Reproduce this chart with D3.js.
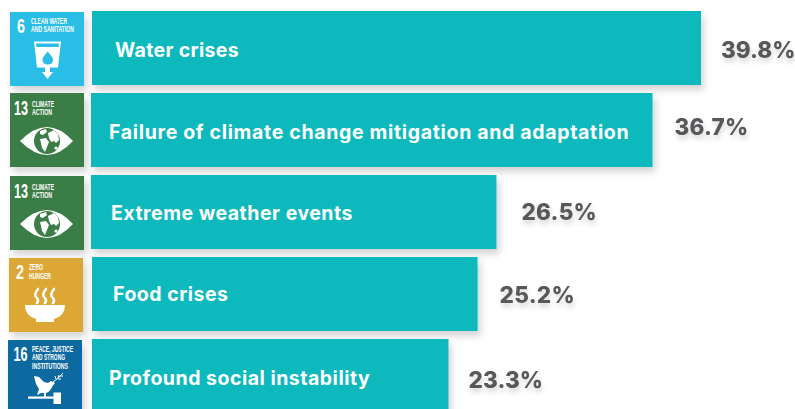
<!DOCTYPE html>
<html>
<head>
<meta charset="utf-8">
<script src="https://cdn.jsdelivr.net/npm/d3@7"></script>
<style>
  html, body { margin: 0; padding: 0; background: #fff; overflow: hidden; }
  svg { display: block; }
</style>
</head>
<body>
<svg id="chart" width="795" height="409"></svg>
<script>
// values
const risks = [
  'Water crises',
  'Failure of climate change mitigation and adaptation',
  'Extreme weather events',
  'Food crises',
  'Profound social instability'
]
const shares = [39.8, 36.7, 26.5, 25.2, 23.3]
const goals = ['water', 'climate', 'climate', 'hunger', 'peace']

/* ----------  LAYOUT  ---------- */
// the source is a hand placed slide, so each row is a little off the grid
const barNudge = [1, 0, 0, 1, 1]
const iconNudge = [[1, 1], [1, 0], [1, 1], [0, 1], [-1, 1]]
const labelX = [24, 18, 20, 22, 18]
const labelDy = [9, 9, 8, 7, 9]
const labelSpacing = [0.35, 0.67, 0.5, 0.5, 0.5]
const valueGap = [20, 22, 25, 22, 20]
const valueDy = [10, 5, 8, 9, 12]
const valueSpacing = [0, 0.25, 0.25, 0.25, 0.1]

const BAR_H = 74
const svg = d3.select('#chart')

const x = d3.scaleLinear().domain([0, 39.8]).range([0, 609])
const y = d3.scaleBand().domain(d3.range(risks.length)).range([11, 413]).paddingInner(8 / 82)

const defs = svg.append('defs')
const barShadow = defs.append('filter').attr('id', 'barShadow')
  .attr('x', '-5%').attr('y', '-20%').attr('width', '115%').attr('height', '150%')
barShadow.append('feDropShadow')
  .attr('dx', 3).attr('dy', 5).attr('stdDeviation', 3.5)
  .attr('flood-color', '#000').attr('flood-opacity', 0.17)
const textShadow = defs.append('filter').attr('id', 'textShadow')
  .attr('x', '-10%').attr('y', '-30%').attr('width', '120%').attr('height', '180%')
textShadow.append('feDropShadow')
  .attr('dx', 1).attr('dy', 4).attr('stdDeviation', 2.5)
  .attr('flood-color', '#000').attr('flood-opacity', 0.16)

/* ----------  BARS  ---------- */
svg.selectAll('.bar')
  .data(shares)
  .enter().append('rect')
  .attr('class', 'bar')
  .attr('x', (d, i) => 91 + barNudge[i])
  .attr('y', (d, i) => y(i))
  .attr('width', d => x(d))
  .attr('height', BAR_H)
  .attr('fill', '#10b9bd')
  .attr('filter', 'url(#barShadow)')

svg.selectAll('.bar-label')
  .data(risks)
  .enter().append('text')
  .attr('class', 'bar-label')
  .attr('x', (d, i) => 91 + labelX[i])
  .attr('y', (d, i) => y(i) + BAR_H / 2 + labelDy[i])
  .style('font-family', 'Inter, sans-serif')
  .style('font-size', '19.5px')
  .style('font-weight', 700)
  .style('letter-spacing', (d, i) => labelSpacing[i] + 'px')
  .style('fill', '#fff')
  .text(d => d)

svg.selectAll('.value')
  .data(shares)
  .enter().append('text')
  .attr('class', 'value')
  .attr('x', (d, i) => 91 + barNudge[i] + x(d) + valueGap[i])
  .attr('y', (d, i) => y(i) + BAR_H / 2 + valueDy[i])
  .style('font-family', 'Inter, sans-serif')
  .style('font-size', '22.5px')
  .style('font-weight', 800)
  .style('letter-spacing', (d, i) => valueSpacing[i] + 'px')
  .style('fill', '#58595b')
  .attr('filter', 'url(#textShadow)')
  .text(d => d.toFixed(1) + '%')

/* ----------  SDG ICONS  ---------- */
const goalInfo = {
  water: { color: '#2bbde6', num: '6', numX: 7, numW: 8, numY: 21, title: ['CLEAN WATER', 'AND SANITATION'], titleX: 21, titleW: [36, 43], titleY: [11.5, 20] },
  climate: { color: '#3a7d46', num: '13', numX: 4, numW: 14, numY: 22, title: ['CLIMATE', 'ACTION'], titleX: 22, titleW: [22, 20], titleY: [13.5, 22] },
  hunger: { color: '#dca736', num: '2', numX: 7, numW: 8, numY: 21, title: ['ZERO', 'HUNGER'], titleX: 20, titleW: [14, 22], titleY: [12, 21] },
  peace: { color: '#0f6aa0', num: '16', numX: 5.5, numW: 14, numY: 21, title: ['PEACE, JUSTICE', 'AND STRONG', 'INSTITUTIONS'], titleX: 24, titleW: [41, 33, 36], titleY: [11.5, 20, 29] }
}

function drawWater (g, color) {
  g.append('path').attr('fill', '#fff')
    .attr('fill-rule', 'evenodd')
    .attr('d', 'M24 29.5H51L48 55.5H40V60H43L37.5 67L32 60H35V55.5H27Z M26 31.5L26.4 35H48.6L49 31.5Z')
  g.append('path').attr('fill', color)
    .attr('d', 'M37.7 39.5Q43.2 45.5 43 48Q42.5 52.5 37.7 52.5Q33 52.5 32.4 48Q32.2 45.5 37.7 39.5Z')
}

function drawEye (g, color) {
  g.append('path').attr('fill', '#fff').attr('d', 'M10 48Q24 34 37 34Q50 34 63 48Q50 62 37 62Q24 62 10 48Z')
  g.append('circle').attr('cx', 37).attr('cy', 48).attr('r', 13).attr('fill', color)
  // land masses, white on the green globe
  g.append('path').attr('fill', '#fff')
    .attr('d', 'M30 38L36 36L37 39L33 42L30 41Z')
  g.append('path').attr('fill', '#fff')
    .attr('d', 'M38 40L44 37L48 41L49 47L46 50L44 48L41 49L39 45Z')
  g.append('path').attr('fill', '#fff')
    .attr('d', 'M30 46L36 45L39 49L37 54L35 59L32 55L31 50Z')
  g.append('circle').attr('cx', 46).attr('cy', 55).attr('r', 1.6).attr('fill', '#fff')
}

function drawBowl (g) {
  g.append('path').attr('fill', '#fff')
    .attr('d', 'M16 47H56Q56 58 45 61V64H27V61Q16 58 16 47Z')
  const steam = g.append('g').attr('fill', 'none').attr('stroke', '#fff')
    .attr('stroke-width', 2.6).attr('stroke-linecap', 'round')
  ;[28, 36, 44].forEach(s => {
    steam.append('path').attr('d', `M${s + 1} 31Q${s - 4} 37 ${s} 40Q${s + 2} 43 ${s} 45`)
  })
}

function drawDove (g) {
  g.append('path').attr('fill', '#fff')
    .attr('d', 'M26 36L31 37L36 42L40 43L43 41L47 43L44.5 46Q42 52 38 53H33L29 55L31 49L28 44Z')
  g.append('rect').attr('x', 36).attr('y', 52).attr('width', 2).attr('height', 5).attr('fill', '#fff')
  g.append('path').attr('fill', 'none').attr('stroke', '#fff').attr('stroke-width', 1)
    .attr('d', 'M45 42Q50 39 55 33M48 39L47 36M50 38L51 35M52 36L55 36M50 39L53 39')
  g.append('rect').attr('x', 20).attr('y', 56.5).attr('width', 26).attr('height', 2.2).attr('fill', '#fff')
  g.append('rect').attr('x', 45.5).attr('y', 52.5).attr('width', 7.5).attr('height', 11.5).attr('fill', '#fff')
}

const glyphs = { water: drawWater, climate: drawEye, hunger: drawBowl, peace: drawDove }

const narrow = "'Liberation Sans Narrow', 'Liberation Sans', sans-serif"

goals.forEach((key, i) => {
  const info = goalInfo[key]
  const g = svg.append('g')
    .attr('transform', `translate(${9 + iconNudge[i][0]}, ${y(i) + iconNudge[i][1]})`)
  g.append('rect')
    .attr('width', 74).attr('height', 74)
    .attr('fill', info.color)
    .attr('filter', 'url(#barShadow)')
  const num = g.append('text')
    .style('font-family', narrow)
    .style('font-size', '21px')
    .style('font-weight', 700)
    .style('fill', '#fff')
    .text(info.num)
  // squeeze the digits to the measured width, textLength leaves the box wide
  const squeeze = info.numW / num.node().getComputedTextLength()
  num.attr('transform', `translate(${info.numX}, ${info.numY}) scale(${squeeze}, 1)`)
  // one text element per icon title, the lines sit tight on purpose
  const title = g.append('text')
    .style('font-family', narrow)
    .style('font-size', '8.5px')
    .style('font-weight', 700)
    .style('fill', '#fff')
  info.title.forEach((line, j) => {
    title.append('tspan')
      .attr('x', info.titleX)
      .attr('y', info.titleY[j])
      .attr('textLength', info.titleW[j])
      .attr('lengthAdjust', 'spacingAndGlyphs')
      .text(line)
  })
  glyphs[key](g, info.color)
})
</script>
</body>
</html>
